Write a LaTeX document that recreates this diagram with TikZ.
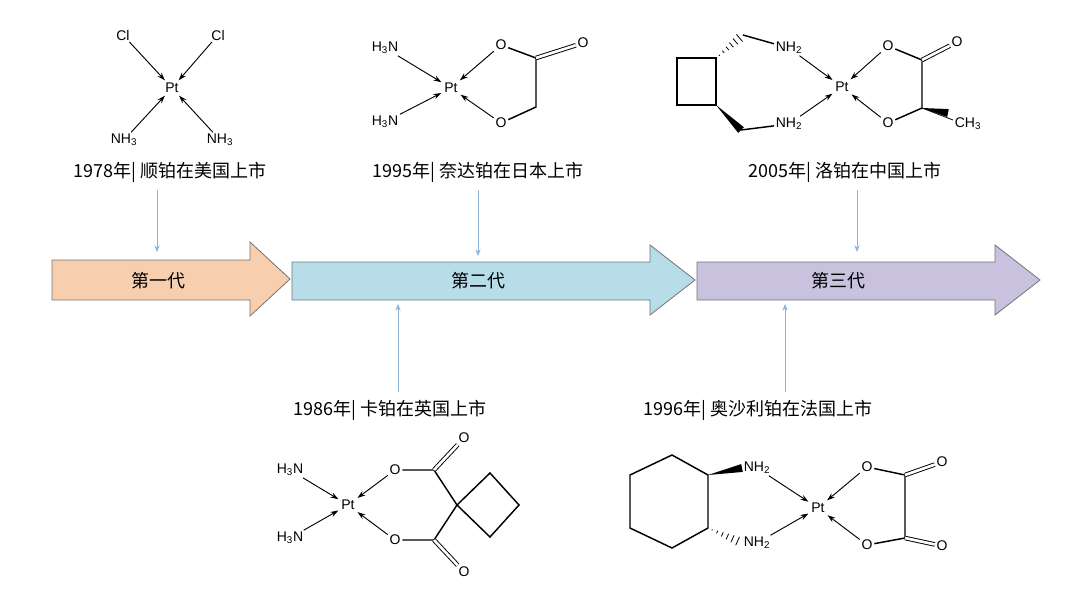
\documentclass[tikz,border=0pt]{standalone}
\usepackage{fontspec}
\setsansfont{Liberation Sans}
\newfontfamily\cjk{Noto Sans CJK SC}
\usetikzlibrary{arrows.meta,calc}
\definecolor{genA}{HTML}{F8CFAE}
\definecolor{genB}{HTML}{B7DDE8}
\definecolor{genC}{HTML}{C9C2DF}
\definecolor{lead}{HTML}{8FB4D8}
\tikzset{every picture/.style={line width=0.75pt}}
\tikzset{
  atom/.style={inner sep=1pt,font=\sffamily\fontsize{10.5}{12}\selectfont},
  dat/.style={-{Stealth[length=6pt,width=4pt]},line width=0.7pt,shorten >=1pt},
  bond/.style={line width=1.1pt},
  dbl/.style={double,double distance=2pt,line width=0.7pt},
  era/.style={anchor=center,inner sep=0.75pt,font=\cjk\fontsize{13.5}{15}\selectfont},
  gen/.style={draw=black!55,line width=0.6pt},
  lead/.style={draw=lead,line width=0.6pt,-{Stealth[length=5pt,width=4pt]}}
}
\newcommand{\hashw}[2]{\foreach \t in {0.12,0.27,...,1}{\draw[line width=0.6pt] ($(#1)!\t!(#2)!\t*4pt!90:(#2)$) -- ($(#1)!\t!(#2)!\t*4pt!-90:(#2)$);}}
\newcommand{\boldw}[2]{\fill (#1) -- ($(#2)!3pt!90:(#1)$) -- ($(#2)!3pt!-90:(#1)$) -- cycle;}

\begin{document}
\begin{tikzpicture}[x=0.75pt,y=0.75pt,yscale=-1,xscale=1]
        \useasboundingbox (0,0) rectangle (1080,589);
        %Generation arrows
        \draw[gen,fill=genA] (52,260) -- (250,260) -- (250,242) -- (290,279) -- (250,316) -- (250,300) -- (52,300) -- cycle;
        \draw[gen,fill=genB] (292,262) -- (650,262) -- (650,245) -- (695,280) -- (650,315) -- (650,300) -- (292,300) -- cycle;
        \draw[gen,fill=genC] (697,262) -- (995,262) -- (995,245) -- (1040,280) -- (995,315) -- (995,300) -- (697,300) -- cycle;
        \draw (158,281) node [era] (g1) {第一代};
        \draw (478,281) node [era] (g2) {第二代};
        \draw (838,281) node [era] (g3) {第三代};

        % Text Node
        \draw (170,172) node [era] (t1) {1978年|\ 顺铂在美国上市};
        \draw (478,172) node [era] (t2) {1995年|\ 奈达铂在日本上市};
        \draw (845,172) node [era] (t3) {2005年|\ 洛铂在中国上市};
        \draw (390,410) node [era] (t4) {1986年|\ 卡铂在英国上市};
        \draw (758,410) node [era] (t5) {1996年|\ 奥沙利铂在法国上市};
        \coordinate (e1) at (157,252);
        \coordinate (e2) at (478,256);
        \coordinate (e3) at (857,252);
        \coordinate (e4) at (398,304);
        \coordinate (e5) at (785,304);
        \draw[lead] (t1.south -| e1) ++(0,6) -- (e1);
        \draw[lead] (t2.south -| e2) ++(0,6) -- (e2);
        \draw[lead] (t3.south -| e3) ++(0,6) -- (e3);
        \draw[lead] (t4.north -| e4) ++(0,-6) -- (e4);
        \draw[lead] (t5.north -| e5) ++(0,-6) -- (e5);

        %Cisplatin
        \node [atom] (p1) at (172,88) {Pt};
        \node [atom] (c1a) at (123,35) {Cl};
        \node [atom] (c1b) at (218,35) {Cl};
        \node [atom] (n1a) at (124,140) {NH\textsubscript{3}};
        \node [atom] (n1b) at (220,140) {NH\textsubscript{3}};
        \foreach \l in {c1a,c1b,n1a,n1b} \draw[dat] (\l) -- (p1);

        %Nedaplatin
        \node [atom] (p2) at (451,88) {Pt};
        \node [atom] (n2a) at (385,48) {H\textsubscript{3}N};
        \node [atom] (n2b) at (385,122) {H\textsubscript{3}N};
        \node [atom] (o2a) at (501,45) {O};
        \node [atom] (o2b) at (501,123) {O};
        \node [atom] (o2c) at (583,43) {O};
        \coordinate (k2a) at (536,58);
        \coordinate (k2b) at (536,107);
        \foreach \l in {n2a,n2b,o2a,o2b} \draw[dat] (\l) -- (p2);
        \draw[bond] (o2a) -- (k2a) -- (k2b) -- (o2b);
        \draw[dbl] (k2a) -- (o2c);

        %Lobaplatin
        \node [atom] (p3) at (842,87) {Pt};
        \coordinate (s3a) at (677,58);
        \coordinate (s3b) at (716,58);
        \coordinate (s3c) at (716,105);
        \coordinate (s3d) at (677,105);
        \coordinate (m3a) at (743,35);
        \coordinate (m3b) at (741,130);
        \draw[bond] (s3a) -- (s3b) -- (s3c) -- (s3d) -- cycle;
        \hashw{s3b}{m3a}
        \boldw{s3c}{m3b}
        \node [atom] (n3a) at (789,48) {NH\textsubscript{2}};
        \node [atom] (n3b) at (789,124) {NH\textsubscript{2}};
        \draw[bond] (m3a) -- (n3a);
        \draw[bond] (m3b) -- (n3b);
        \node [atom] (o3a) at (888,46) {O};
        \node [atom] (o3b) at (888,123) {O};
        \node [atom] (o3c) at (957,42) {O};
        \node [atom] (me3) at (968,124) {CH\textsubscript{3}};
        \coordinate (k3a) at (922,60);
        \coordinate (k3b) at (922,108);
        \foreach \l in {n3a,n3b,o3a,o3b} \draw[dat] (\l) -- (p3);
        \draw[bond] (o3a) -- (k3a) -- (k3b) -- (o3b);
        \draw[dbl] (k3a) -- (o3c);
        \draw[line width=0.6pt] (k3b) -- (953,120);
        \boldw{k3b}{948,113}

        %Carboplatin
        \node [atom] (p4) at (348,505) {Pt};
        \node [atom] (n4a) at (290,470) {H\textsubscript{3}N};
        \node [atom] (n4b) at (290,538) {H\textsubscript{3}N};
        \node [atom] (o4a) at (395,470) {O};
        \node [atom] (o4b) at (395,540) {O};
        \node [atom] (o4c) at (464,438) {O};
        \node [atom] (o4d) at (464,572) {O};
        \coordinate (k4a) at (434,470);
        \coordinate (k4b) at (434,540);
        \coordinate (q4) at (457,505);
        \coordinate (r4a) at (490,473);
        \coordinate (r4b) at (519,505);
        \coordinate (r4c) at (490,537);
        \foreach \l in {n4a,n4b,o4a,o4b} \draw[dat] (\l) -- (p4);
        \draw[bond] (o4a) -- (k4a) -- (q4) -- (k4b) -- (o4b);
        \draw[dbl] (k4a) -- (o4c);
        \draw[dbl] (k4b) -- (o4d);
        \draw[bond] (q4) -- (r4a) -- (r4b) -- (r4c) -- cycle;

        %Oxaliplatin
        \node [atom] (p5) at (818,508) {Pt};
        \coordinate (h5a) at (672,455);
        \coordinate (h5b) at (708,475);
        \coordinate (h5c) at (708,528);
        \coordinate (h5d) at (672,548);
        \coordinate (h5e) at (630,528);
        \coordinate (h5f) at (630,475);
        \draw[bond] (h5a) -- (h5b) -- (h5c) -- (h5d) -- (h5e) -- (h5f) -- cycle;
        \node [atom] (n5a) at (757,468) {NH\textsubscript{2}};
        \node [atom] (n5b) at (757,543) {NH\textsubscript{2}};
        \boldw{h5b}{n5a.west}
        \hashw{h5c}{n5b.west}
        \node [atom] (o5a) at (867,467) {O};
        \node [atom] (o5b) at (867,545) {O};
        \node [atom] (o5c) at (942,462) {O};
        \node [atom] (o5d) at (942,546) {O};
        \coordinate (k5a) at (905,475);
        \coordinate (k5b) at (905,538);
        \foreach \l in {n5a,n5b,o5a,o5b} \draw[dat] (\l) -- (p5);
        \draw[bond] (o5a) -- (k5a) -- (k5b) -- (o5b);
        \draw[dbl] (k5a) -- (o5c);
        \draw[dbl] (k5b) -- (o5d);
    \end{tikzpicture}
\end{document}
